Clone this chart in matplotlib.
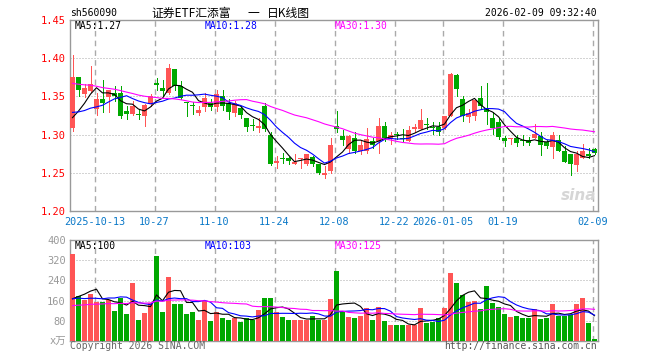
"""
Daily K-line chart of sh560090 (Sina style): candles + MA lines on top,
volume bars + volume MA lines underneath. Saves out.png (660x360).
"""
import numpy as np
import pandas as pd
import matplotlib
matplotlib.use("Agg")
import matplotlib.pyplot as plt

# ****** Chart texts ****** #
code = "sh560090"
title_parts = ["证券ETF汇添富", "一", "日K线图"]
stamp = "2026-02-09 09:32:40"

# ****** Data ****** #
opens = [1.309, 1.375, 1.353, 1.357, 1.333, 1.347, 1.349, 1.354, 1.354, 1.331,
         1.327, 1.327, 1.325, 1.340, 1.368, 1.361, 1.354, 1.386, 1.364, 1.343,
         1.338, 1.328, 1.336, 1.341, 1.336, 1.350, 1.342, 1.328, 1.335, 1.322,
         1.312, 1.308, 1.338, 1.300, 1.263, 1.269, 1.269, 1.262, 1.268, 1.261,
         1.271, 1.261, 1.247, 1.252, 1.311, 1.298, 1.281, 1.295, 1.279, 1.279,
         1.291, 1.292, 1.311, 1.294, 1.300, 1.295, 1.292, 1.307, 1.307, 1.314,
         1.310, 1.310, 1.309, 1.325, 1.378, 1.347, 1.323, 1.325, 1.348, 1.335,
         1.322, 1.317, 1.296, 1.294, 1.295, 1.292, 1.293, 1.295, 1.298, 1.290,
         1.284, 1.293, 1.279, 1.274, 1.260, 1.270, 1.275, 1.281]
highs = [1.404, 1.375, 1.366, 1.390, 1.354, 1.372, 1.358, 1.363, 1.363, 1.338,
         1.344, 1.333, 1.340, 1.353, 1.374, 1.371, 1.392, 1.386, 1.370, 1.343,
         1.343, 1.338, 1.354, 1.347, 1.358, 1.358, 1.347, 1.344, 1.338, 1.322,
         1.320, 1.322, 1.341, 1.304, 1.272, 1.276, 1.271, 1.274, 1.269, 1.275,
         1.272, 1.262, 1.259, 1.295, 1.331, 1.306, 1.300, 1.303, 1.292, 1.308,
         1.295, 1.322, 1.317, 1.304, 1.304, 1.307, 1.311, 1.314, 1.333, 1.322,
         1.317, 1.317, 1.325, 1.380, 1.379, 1.351, 1.333, 1.347, 1.363, 1.368,
         1.329, 1.322, 1.298, 1.296, 1.300, 1.300, 1.297, 1.314, 1.303, 1.293,
         1.303, 1.300, 1.285, 1.274, 1.279, 1.288, 1.283, 1.282]
lows = [1.305, 1.351, 1.349, 1.356, 1.326, 1.329, 1.329, 1.344, 1.322, 1.320,
        1.326, 1.320, 1.311, 1.338, 1.358, 1.351, 1.353, 1.358, 1.346, 1.325,
        1.327, 1.326, 1.331, 1.332, 1.331, 1.332, 1.320, 1.325, 1.322, 1.305,
        1.306, 1.304, 1.305, 1.260, 1.256, 1.263, 1.262, 1.261, 1.256, 1.260,
        1.259, 1.248, 1.243, 1.250, 1.303, 1.287, 1.276, 1.276, 1.275, 1.276,
        1.283, 1.276, 1.292, 1.288, 1.294, 1.292, 1.291, 1.304, 1.307, 1.307,
        1.301, 1.300, 1.307, 1.325, 1.350, 1.318, 1.317, 1.319, 1.333, 1.314,
        1.301, 1.294, 1.285, 1.288, 1.285, 1.287, 1.287, 1.295, 1.273, 1.283,
        1.269, 1.279, 1.264, 1.247, 1.253, 1.269, 1.269, 1.275]
closes = [1.375, 1.358, 1.361, 1.366, 1.347, 1.341, 1.358, 1.351, 1.325, 1.327,
          1.338, 1.326, 1.339, 1.351, 1.365, 1.357, 1.387, 1.363, 1.348, 1.342,
          1.337, 1.332, 1.348, 1.336, 1.353, 1.338, 1.329, 1.341, 1.326, 1.310,
          1.311, 1.311, 1.307, 1.261, 1.265, 1.268, 1.265, 1.264, 1.269, 1.274,
          1.261, 1.250, 1.250, 1.286, 1.307, 1.293, 1.298, 1.279, 1.287, 1.294,
          1.286, 1.311, 1.295, 1.300, 1.299, 1.294, 1.306, 1.310, 1.319, 1.313,
          1.309, 1.303, 1.325, 1.379, 1.360, 1.325, 1.328, 1.345, 1.338, 1.329,
          1.308, 1.297, 1.292, 1.296, 1.289, 1.291, 1.289, 1.301, 1.286, 1.285,
          1.300, 1.279, 1.264, 1.261, 1.275, 1.278, 1.272, 1.276]
volumes = [345, 177, 163, 187, 154, 154, 163, 118, 171, 105,
           230, 85, 110, 150, 338, 114, 254, 145, 145, 105,
           114, 85, 158, 81, 115, 91, 85, 91, 74, 91,
           83, 121, 169, 172, 114, 97, 83, 85, 85, 85,
           99, 85, 85, 166, 277, 120, 96, 92, 100, 132,
           84, 136, 80, 64, 64, 64, 64, 64, 132, 73,
           76, 92, 132, 268, 228, 182, 156, 159, 128, 216,
           149, 136, 105, 97, 99, 91, 92, 125, 89, 93,
           145, 99, 99, 104, 145, 172, 72, 8]

# closes / volumes before the first candle, backed out from where the MA lines start
hist_close = [1.392, 1.385, 1.380, 1.388, 1.395, 1.390, 1.383, 1.378, 1.386, 1.392,
              1.389, 1.384, 1.381, 1.387, 1.391, 1.388, 1.382, 1.379, 1.385, 1.386,
              1.352, 1.343, 1.335, 1.330, 1.320, 1.315, 1.310, 1.306, 1.305]
hist_vol = [120, 135, 110, 142, 128, 118, 131, 125, 139, 116,
            122, 134, 127, 119, 130, 124, 136, 121, 129, 124,
            150, 182, 171, 160, 172, 131, 118, 126, 116]

tick_pos = [4, 14, 24, 34, 44, 54, 62, 72, 87]
tick_text = ["2025-10-13", "10-27", "11-10", "11-24", "12-08",
             "12-22", "2026-01-05", "01-19", "02-09"]
price_ticks = [1.20, 1.25, 1.30, 1.35, 1.40, 1.45]
vol_ticks = [0, 80, 160, 240, 320, 400]
ma_windows = [5, 10, 30]

# ****** Style ****** #
RED, GREEN = "#ff5555", "#00a800"
MA_COLORS = ["black", "#0000ff", "#ff00ff"]
GRID = "#aaaaaa"
MONO = ["DejaVu Sans Mono", "Noto Sans CJK SC"]
CJK = ["Noto Sans CJK SC", "DejaVu Sans"]
W, H = 660, 360

o, h, l, c = map(np.array, (opens, highs, lows, closes))
vol = np.array(volumes)
n = len(c)
x = np.arange(n) + 5 / 12          # candle centres, 5px body in a 6px slot
up = c >= o
col = np.where(up, RED, GREEN)

nh = len(hist_close)
ma_p = {w: pd.Series(hist_close + closes).rolling(w).mean().values[nh:] for w in ma_windows}
ma_v = {w: pd.Series(hist_vol + volumes).rolling(w).mean().values[nh:] for w in ma_windows}


def box(left, top, right, bottom):
    return [left / W, 1 - bottom / H, (right - left) / W, (bottom - top) / H]


def fig_text(px, py, s, **kw):
    kw.setdefault("family", MONO)
    kw.setdefault("fontsize", 7)
    fig.text(px / W, 1 - py / H, s, va="center", **kw)


fig = plt.figure(figsize=(W / 100, H / 100), dpi=100)
ax = fig.add_axes(box(70, 20, 598, 211))
axv = fig.add_axes(box(70, 240, 598, 341))

for a in (ax, axv):
    a.set_xlim(0, n)
    for s in a.spines.values():
        s.set_color("#999999")
        s.set_linewidth(1.0)
    a.tick_params(length=0)
    for t in tick_pos:
        a.axvline(t + 1 / 12, color=GRID, lw=1.0, ls=(0, (4, 3)), zorder=1)

# --- price panel ---
ax.set_ylim(price_ticks[0], price_ticks[-1])
for p in price_ticks[1:-1]:
    ax.axhline(p, color=GRID, lw=0.72, ls=(0, (1, 2)), zorder=1)
ax.vlines(x, l, h, colors=col, lw=0.72, zorder=3, antialiased=False)
body = np.maximum(np.abs(c - o), 0.0013)
ax.bar(x, body, bottom=np.minimum(o, c), width=5 / 6, color=col, lw=0, zorder=4)
for w, mc in zip(ma_windows, MA_COLORS):
    ax.plot(x, ma_p[w], color=mc, lw=0.8, zorder=5)
ax.set_yticks(price_ticks, [f"{p:.2f}" for p in price_ticks])
ax.set_xticks([t + 1 / 12 for t in tick_pos], tick_text)
for lab in ax.get_yticklabels():
    lab.set_color("red")
    lab.set_family(MONO)
    lab.set_fontsize(7.5)
for lab in ax.get_xticklabels():
    lab.set_color("#0a78c8")
    lab.set_family(MONO)
    lab.set_fontsize(7.3)
ax.tick_params(axis="y", pad=3)
ax.tick_params(axis="x", pad=4)

# --- volume panel ---
axv.set_ylim(vol_ticks[0], vol_ticks[-1])
for v in vol_ticks[1:-1]:
    axv.axhline(v, color=GRID, lw=0.72, ls=(0, (1, 2)), zorder=1)
axv.bar(x, vol, width=5 / 6, color=col, lw=0, zorder=3)
for w, mc in zip(ma_windows, MA_COLORS):
    axv.plot(x, ma_v[w], color=mc, lw=0.8, zorder=5)
axv.set_yticks(vol_ticks, ["x万"] + [str(v) for v in vol_ticks[1:]])
axv.set_xticks([])
for lab in axv.get_yticklabels():
    lab.set_color("#999999")
    lab.set_family(MONO)
    lab.set_fontsize(7.5)
axv.tick_params(axis="y", pad=3)

# --- header / legend texts ---
fig_text(70, 13, code, ha="left")
for px, part in zip([151, 247, 267], title_parts):
    fig_text(px, 13, part, ha="left", family=CJK, fontsize=8.5)
fig_text(597, 13, stamp, ha="right")
for px, w, mc in zip([75, 205, 335], ma_windows, MA_COLORS):
    fig_text(px, 26, f"MA{w}:{ma_p[w][-1]:.2f}", ha="left", color=mc)
    fig_text(px, 246, f"MA{w}:{ma_v[w][-1]:.0f}", ha="left", color=mc)
fig_text(70, 346, "Copyright 2026 SINA.COM", ha="left", color="#666666")
fig_text(597, 346, "http://finance.sina.com.cn", ha="right", color="#555555")
fig_text(596, 196, "sina", ha="right", color="#d6d6d6", family="DejaVu Sans",
         fontsize=11, style="italic", weight="bold")

plt.savefig("out.png", dpi=100)
